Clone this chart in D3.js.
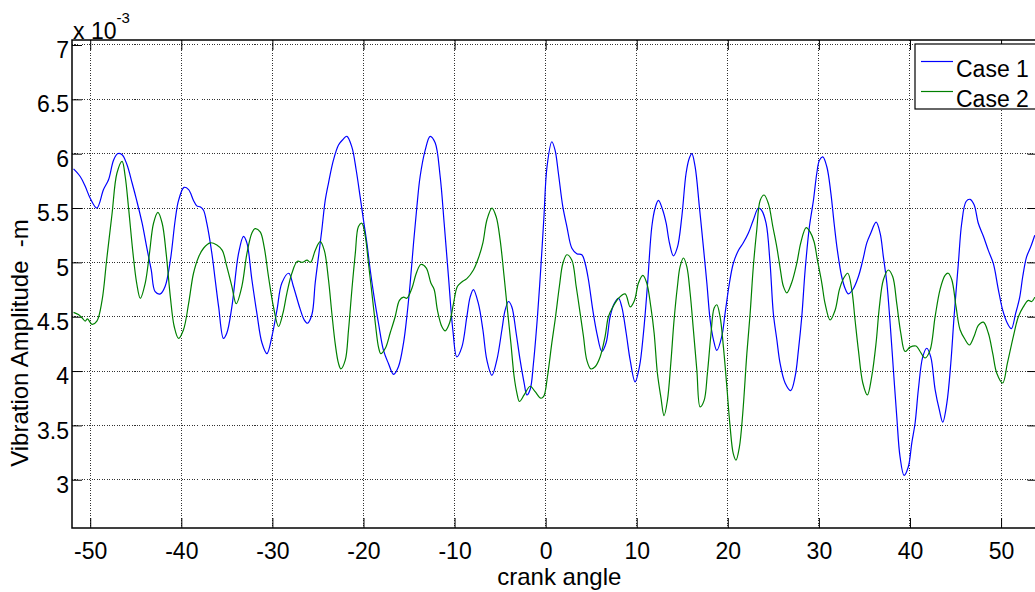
<!DOCTYPE html>
<html>
<head>
<meta charset="utf-8">
<script src="https://cdn.jsdelivr.net/npm/d3@7"></script>
<style>
    body { margin: 0; background: #fff; }
    svg { display: block; font-family: "Liberation Sans", Arial, Helvetica, sans-serif; }
</style>
</head>
<body>
<svg id="chart" width="1035" height="592"></svg>
<script>
// angles and amplitudes (x 10^-3)
const caseOneAngle = [-51.83, -51.1, -50.55, -50.0, -49.27, -48.54, -47.99, -47.44, -47.0, -46.5, -45.97, -45.4, -44.9, -44.3, -43.8, -43.3, -42.87, -42.3, -41.77, -41.2, -40.67, -40.3, -39.7, -39.2, -38.66, -38.3, -37.9, -37.56, -37.2, -36.64, -36.28, -35.9, -35.37, -35.0, -34.45, -33.72, -33.17, -32.8, -32.25, -31.7, -31.15, -30.6, -30.05, -29.5, -28.96, -28.2, -27.7, -26.95, -26.5, -26.15, -25.66, -25.3, -24.94, -24.57, -24.2, -23.84, -23.3, -22.74, -22.26, -21.82, -21.27, -20.8, -20.36, -20.0, -19.63, -19.26, -18.83, -18.35, -17.8, -17.26, -16.7, -16.16, -15.6, -15.24, -14.87, -14.5, -14.14, -13.78, -13.23, -12.68, -12.13, -11.58, -11.14, -10.67, -10.19, -9.75, -9.2, -8.65, -8.29, -7.93, -7.38, -6.89, -6.45, -5.9, -5.36, -4.8, -4.45, -4.08, -3.71, -3.24, -2.8, -2.36, -2.06, -1.7, -1.34, -0.9, -0.53, -0.2, 0.15, 0.68, 1.04, 1.4, 1.89, 2.33, 2.88, 3.42, 3.97, 4.34, 4.7, 5.18, 5.62, 6.17, 6.64, 7.08, 7.52, 8.0, 8.36, 8.84, 9.28, 9.82, 10.3, 10.74, 11.17, 11.66, 12.02, 12.38, 12.86, 13.23, 13.59, 14.03, 14.47, 14.95, 15.42, 15.78, 16.05, 16.41, 16.88, 17.32, 17.7, 18.06, 18.42, 18.79, 19.34, 19.7, 20.18, 20.6, 21.16, 21.7, 22.26, 22.8, 23.36, 23.7, 24.2, 24.64, 25.0, 25.38, 25.74, 26.29, 26.9, 27.39, 27.75, 28.12, 28.49, 28.96, 29.4, 29.77, 30.06, 30.43, 30.87, 31.31, 31.67, 32.03, 32.5, 32.88, 33.24, 33.79, 34.34, 34.82, 35.26, 35.7, 36.28, 36.72, 37.08, 37.46, 37.82, 38.18, 38.55, 38.91, 39.35, 39.82, 40.2, 40.56, 40.92, 41.4, 41.84, 42.28, 42.76, 43.23, 43.6, 44.04, 44.48, 44.84, 45.31, 45.68, 46.16, 46.6, 47.04, 47.5, 48.06, 48.6, 49.15, 49.7, 50.18, 50.69, 51.13, 51.6, 52.05, 52.38, 52.8, 53.24, 53.7];
const caseOneAmp = [5.86, 5.79, 5.70, 5.59, 5.50, 5.67, 5.76, 5.94, 6.0, 5.99, 5.90, 5.73, 5.57, 5.36, 5.14, 4.93, 4.73, 4.71, 4.78, 5.02, 5.39, 5.57, 5.69, 5.67, 5.57, 5.52, 5.51, 5.48, 5.36, 5.08, 4.84, 4.59, 4.30, 4.35, 4.59, 5.08, 5.24, 5.18, 4.84, 4.53, 4.26, 4.16, 4.32, 4.56, 4.81, 4.90, 4.78, 4.57, 4.47, 4.44, 4.52, 4.81, 5.05, 5.30, 5.57, 5.73, 5.94, 6.08, 6.13, 6.16, 6.06, 5.85, 5.60, 5.39, 5.18, 4.93, 4.68, 4.44, 4.19, 4.07, 3.97, 4.04, 4.26, 4.50, 4.81, 5.18, 5.51, 5.79, 6.03, 6.16, 6.10, 5.79, 5.36, 4.87, 4.38, 4.13, 4.22, 4.50, 4.68, 4.75, 4.62, 4.38, 4.10, 3.96, 4.10, 4.38, 4.56, 4.64, 4.59, 4.35, 4.10, 3.89, 3.78, 3.83, 4.07, 4.50, 4.95, 5.40, 5.88, 6.11, 6.03, 5.82, 5.51, 5.33, 5.13, 5.08, 5.07, 4.99, 4.84, 4.56, 4.35, 4.18, 4.26, 4.50, 4.62, 4.67, 4.59, 4.35, 4.10, 3.90, 4.04, 4.35, 4.78, 5.33, 5.50, 5.57, 5.48, 5.36, 5.18, 5.06, 5.14, 5.42, 5.82, 5.96, 6.0, 5.88, 5.51, 5.14, 4.81, 4.47, 4.29, 4.19, 4.32, 4.53, 4.81, 4.99, 5.11, 5.18, 5.27, 5.39, 5.50, 5.48, 5.36, 4.99, 4.53, 4.29, 4.07, 3.89, 3.82, 3.95, 4.19, 4.50, 4.93, 5.33, 5.57, 5.82, 5.94, 5.97, 5.88, 5.64, 5.36, 5.11, 4.87, 4.76, 4.71, 4.76, 4.87, 5.02, 5.18, 5.27, 5.37, 5.27, 5.05, 4.81, 4.44, 4.01, 3.58, 3.21, 3.04, 3.12, 3.34, 3.52, 3.83, 4.13, 4.21, 4.13, 3.83, 3.64, 3.53, 3.70, 4.07, 4.50, 4.99, 5.36, 5.56, 5.58, 5.53, 5.36, 5.24, 5.11, 4.99, 4.75, 4.56, 4.44, 4.39, 4.53, 4.68, 4.87, 5.05, 5.14, 5.25];

const caseTwoAngle = [-51.83, -51.3, -50.9, -50.55, -50.3, -49.8, -49.27, -48.7, -48.2, -47.6, -47.07, -46.5, -46.16, -45.8, -45.3, -44.9, -44.5, -43.96, -43.5, -43.05, -42.57, -42.1, -41.66, -41.2, -40.78, -40.3, -39.76, -39.2, -38.66, -38.1, -37.56, -36.83, -36.1, -35.5, -35.0, -34.45, -33.97, -33.35, -32.8, -32.25, -31.9, -31.34, -30.9, -30.43, -29.88, -29.33, -28.85, -28.4, -27.86, -27.25, -26.7, -26.2, -25.8, -25.3, -24.75, -24.3, -23.84, -23.47, -23.1, -22.74, -22.48, -22.0, -21.64, -21.27, -20.9, -20.55, -20.18, -19.8, -19.45, -19.08, -18.7, -18.35, -18.1, -17.6, -17.07, -16.52, -16.05, -15.6, -15.24, -14.69, -14.2, -13.7, -13.12, -12.6, -12.24, -11.88, -11.4, -11.03, -10.56, -10.12, -9.68, -9.2, -8.65, -7.93, -7.38, -6.89, -6.45, -5.9, -5.43, -5.0, -4.56, -4.19, -3.82, -3.46, -3.16, -2.88, -2.36, -1.7, -1.15, -0.53, -0.2, 0.2, 0.68, 1.04, 1.51, 1.89, 2.33, 2.88, 3.35, 3.79, 4.15, 4.52, 4.96, 5.43, 5.98, 6.53, 6.89, 7.38, 8.0, 8.73, 9.28, 9.75, 10.19, 10.67, 11.1, 11.55, 11.91, 12.27, 12.65, 13.0, 13.37, 13.74, 14.1, 14.47, 14.76, 15.13, 15.5, 15.86, 16.22, 16.6, 16.96, 17.4, 17.76, 18.13, 18.5, 18.79, 19.15, 19.52, 19.89, 20.25, 20.6, 20.9, 21.27, 21.64, 22.09, 22.45, 22.8, 23.18, 23.55, 23.98, 24.46, 24.94, 25.38, 25.74, 26.1, 26.48, 27.0, 27.57, 28.01, 28.6, 29.03, 29.47, 29.84, 30.32, 30.68, 31.23, 31.78, 32.25, 32.69, 33.17, 33.61, 33.97, 34.34, 34.82, 35.32, 35.8, 36.28, 36.64, 37.08, 37.62, 38.1, 38.55, 38.99, 39.46, 40.01, 40.67, 41.11, 41.66, 42.2, 42.76, 43.3, 43.85, 44.2, 44.59, 45.06, 45.5, 46.05, 46.52, 47.04, 47.5, 48.06, 48.6, 49.09, 49.53, 50.18, 50.69, 51.35, 51.9, 52.44, 52.99, 53.36, 53.7];
const caseTwoAmp = [4.54, 4.52, 4.49, 4.46, 4.48, 4.43, 4.46, 4.65, 5.02, 5.45, 5.82, 5.93, 5.79, 5.51, 5.08, 4.81, 4.67, 4.81, 5.08, 5.36, 5.46, 5.36, 5.08, 4.68, 4.41, 4.30, 4.38, 4.62, 4.90, 5.05, 5.13, 5.18, 5.16, 5.11, 4.96, 4.78, 4.62, 4.78, 5.08, 5.27, 5.31, 5.28, 5.14, 4.87, 4.59, 4.41, 4.53, 4.72, 4.90, 5.01, 5.0, 5.02, 5.0, 5.11, 5.19, 5.11, 4.84, 4.53, 4.25, 4.07, 4.02, 4.10, 4.38, 4.75, 5.08, 5.33, 5.36, 5.24, 4.99, 4.72, 4.44, 4.22, 4.16, 4.21, 4.35, 4.50, 4.65, 4.68, 4.67, 4.76, 4.90, 4.98, 4.95, 4.81, 4.75, 4.56, 4.41, 4.37, 4.44, 4.62, 4.78, 4.82, 4.85, 4.93, 5.04, 5.18, 5.39, 5.50, 5.42, 5.21, 4.87, 4.56, 4.26, 3.95, 3.80, 3.72, 3.78, 3.86, 3.81, 3.75, 3.77, 3.95, 4.26, 4.47, 4.78, 4.99, 5.07, 5.02, 4.78, 4.53, 4.32, 4.10, 4.02, 4.04, 4.13, 4.32, 4.50, 4.59, 4.67, 4.71, 4.59, 4.65, 4.81, 4.88, 4.81, 4.59, 4.35, 3.98, 3.76, 3.59, 3.73, 4.07, 4.47, 4.78, 4.96, 5.04, 4.96, 4.72, 4.38, 4.01, 3.67, 3.73, 3.98, 4.32, 4.58, 4.61, 4.50, 4.22, 3.86, 3.49, 3.24, 3.18, 3.30, 3.61, 4.16, 4.53, 4.96, 5.30, 5.57, 5.62, 5.54, 5.33, 5.14, 4.95, 4.78, 4.72, 4.81, 4.99, 5.18, 5.32, 5.28, 5.19, 5.02, 4.81, 4.62, 4.47, 4.56, 4.75, 4.85, 4.90, 4.75, 4.47, 4.19, 3.89, 3.78, 3.95, 4.26, 4.59, 4.84, 4.93, 4.87, 4.62, 4.35, 4.18, 4.22, 4.23, 4.18, 4.12, 4.19, 4.50, 4.75, 4.88, 4.90, 4.84, 4.59, 4.38, 4.29, 4.24, 4.32, 4.42, 4.45, 4.35, 4.16, 3.98, 3.89, 4.07, 4.32, 4.50, 4.59, 4.65, 4.64, 4.68];

const seriesNames = ['Case 1', 'Case 2'];
const seriesColors = ['#0000ff', '#008000'];
const xTicks = [-50, -40, -30, -20, -10, 0, 10, 20, 30, 40, 50];
const yTicks = [3, 3.5, 4, 4.5, 5, 5.5, 6, 6.5, 7];

// axes box (right edge falls just past the window, like the picture)
var margin = { left: 72, top: 40 },
    plotW = 965.5,
    plotH = 488;

var svg = d3.select('#chart');

var x = d3.scaleLinear().domain([-52, 54]).range([0, plotW]);
var y = d3.scaleLinear().domain([2.556, 7.046]).range([plotH, 0]);

var g = svg.append('g').attr('transform', `translate(${margin.left},${margin.top})`);

svg.append('defs').append('clipPath').attr('id', 'plot-clip')
    .append('rect').attr('width', plotW).attr('height', plotH);

// dotted grid
g.append('g').selectAll('line').data(xTicks).join('line')
    .attr('x1', d => x(d)).attr('x2', d => x(d))
    .attr('y1', 0).attr('y2', plotH)
    .attr('stroke', '#000').attr('stroke-width', 1)
    .attr('stroke-dasharray', '1,1.5').attr('opacity', 0.8)
    .attr('shape-rendering', 'crispEdges');
g.append('g').selectAll('line').data(yTicks).join('line')
    .attr('x1', 0).attr('x2', plotW)
    .attr('y1', d => y(d)).attr('y2', d => y(d))
    .attr('stroke', '#000').attr('stroke-width', 1)
    .attr('stroke-dasharray', '1,1.5').attr('opacity', 0.8)
    .attr('shape-rendering', 'crispEdges');

// inward ticks on all four sides, matlab style
var tickLen = 10;
g.append('g').attr('transform', `translate(0,${plotH})`)
    .call(d3.axisBottom(x).tickValues(xTicks).tickSize(-tickLen).tickPadding(15).tickFormat(d => String(d)))
    .call(a => a.select('.domain').remove());
g.append('g')
    .call(d3.axisTop(x).tickValues(xTicks).tickSize(-tickLen).tickFormat(''))
    .call(a => a.select('.domain').remove());
var yAxis = g.append('g')
    .call(d3.axisLeft(y).tickValues(yTicks).tickSize(-tickLen).tickPadding(3).tickFormat(d => String(d)))
    .call(a => a.select('.domain').remove());
g.append('g').attr('transform', `translate(${plotW},0)`)
    .call(d3.axisRight(y).tickValues(yTicks).tickSize(-tickLen).tickFormat(''))
    .call(a => a.select('.domain').remove());

g.selectAll('.tick line').attr('stroke', '#000').attr('stroke-width', 1);
g.selectAll('.tick text')
    .attr('fill', '#000')
    .style('font-size', '23px')
    .style('font-family', '"Liberation Sans", Arial, sans-serif');
// y labels sit a little low in the picture
yAxis.selectAll('.tick text').attr('dy', '0.55em');

// series
var line = d3.line()
    .x(d => x(d[0]))
    .y(d => y(d[1]))
    .curve(d3.curveCatmullRom.alpha(0.5));

var series = [
    d3.zip(caseOneAngle, caseOneAmp),
    d3.zip(caseTwoAngle, caseTwoAmp)
];

g.append('g').attr('clip-path', 'url(#plot-clip)')
    .selectAll('path').data(series).join('path')
    .attr('d', line)
    .attr('fill', 'none')
    .attr('stroke', (d, i) => seriesColors[i])
    .attr('stroke-width', 1.2);

// box
g.append('rect')
    .attr('width', plotW).attr('height', plotH)
    .attr('fill', 'none').attr('stroke', '#000').attr('stroke-width', 1.5);

// exponent label
var expo = svg.append('text')
    .attr('x', 73).attr('y', 39)
    .style('font-size', '23px');
expo.append('tspan').text('x 10');
expo.append('tspan').attr('dy', -16).style('font-size', '15px').text('-3');

// axis labels
svg.append('text')
    .attr('x', margin.left + x(1.5)).attr('y', 585)
    .attr('text-anchor', 'middle')
    .style('font-size', '24px')
    .text('crank angle');

svg.append('text')
    .attr('transform', 'translate(28,343) rotate(-90)')
    .attr('text-anchor', 'middle')
    .style('font-size', '24px')
    .style('white-space', 'pre')
    .text('Vibration Amplitude  -m');

// legend
var legend = svg.append('g').attr('transform', 'translate(915,44)');
legend.append('rect')
    .attr('width', 140).attr('height', 65)
    .attr('fill', '#fff').attr('stroke', '#000').attr('stroke-width', 1.2);
seriesNames.forEach(function (name, i) {
    var row = legend.append('g').attr('transform', `translate(0,${17.5 + i * 30})`);
    row.append('line')
        .attr('x1', 6).attr('x2', 38)
        .attr('stroke', seriesColors[i]).attr('stroke-width', 1.2);
    row.append('text')
        .attr('x', 41).attr('y', 15)
        .style('font-size', '23px')
        .text(name);
});
</script>
</body>
</html>
